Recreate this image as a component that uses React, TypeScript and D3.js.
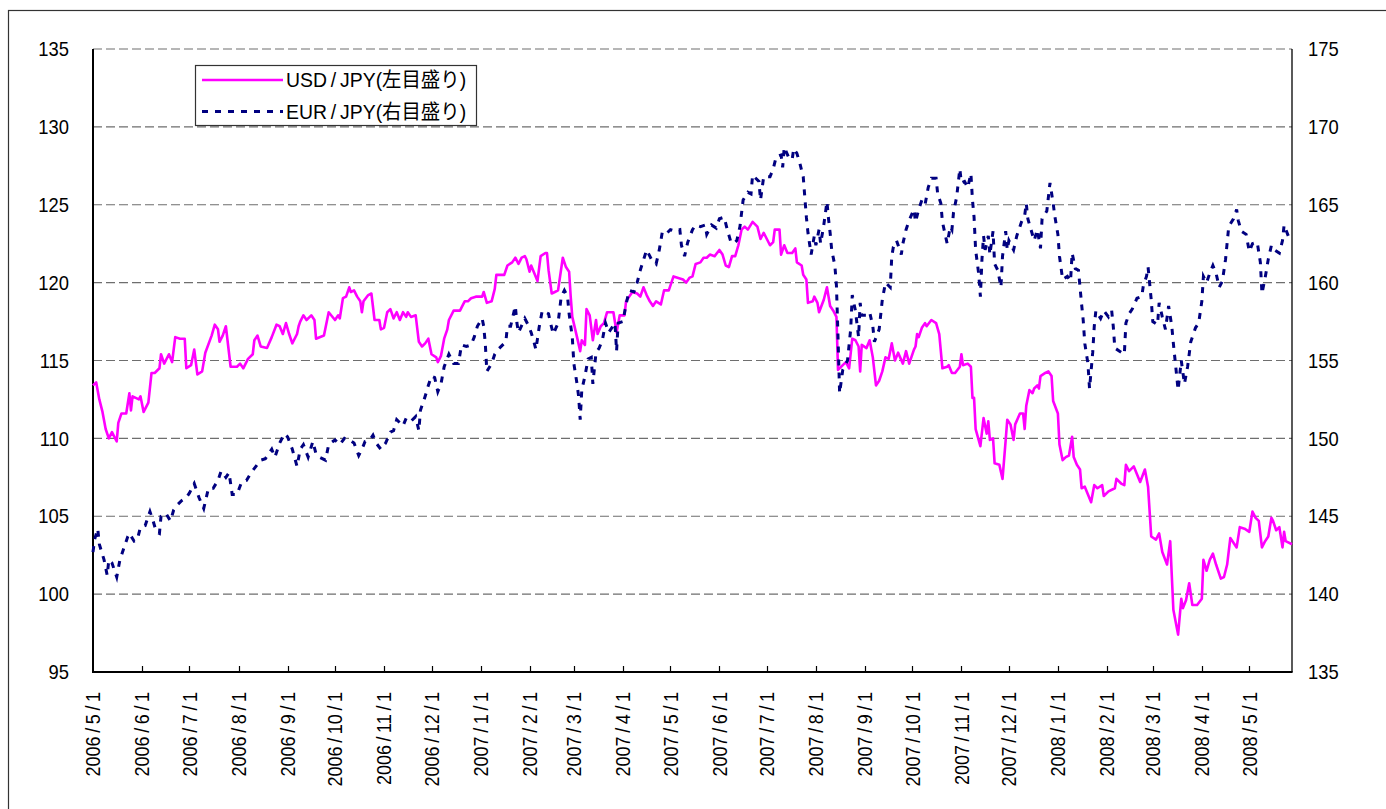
import React, { useRef, useEffect } from "react";
import * as d3 from "d3";

// USD/JPY (left axis)
const usdjpy: [string, number][] = [
  ["2006-05-01", 113.4], ["2006-05-03", 113.6], ["2006-05-05", 112.5], ["2006-05-07", 111.7],
  ["2006-05-09", 110.6], ["2006-05-11", 110.0], ["2006-05-13", 110.4], ["2006-05-16", 109.8],
  ["2006-05-17", 111.0], ["2006-05-19", 111.6], ["2006-05-22", 111.6], ["2006-05-24", 112.9],
  ["2006-05-25", 111.8], ["2006-05-26", 112.7], ["2006-05-30", 112.5], ["2006-05-31", 112.7],
  ["2006-06-02", 111.7], ["2006-06-05", 112.3], ["2006-06-07", 114.2], ["2006-06-09", 114.2],
  ["2006-06-12", 114.5], ["2006-06-13", 115.4], ["2006-06-15", 114.8], ["2006-06-18", 115.4],
  ["2006-06-20", 114.9], ["2006-06-22", 116.5], ["2006-06-25", 116.4], ["2006-06-28", 116.4],
  ["2006-06-29", 114.5], ["2006-07-02", 114.7], ["2006-07-04", 115.7], ["2006-07-06", 114.1],
  ["2006-07-09", 114.3], ["2006-07-11", 115.5], ["2006-07-15", 116.6], ["2006-07-17", 117.3],
  ["2006-07-19", 117.0], ["2006-07-20", 116.2], ["2006-07-22", 116.6], ["2006-07-24", 117.2],
  ["2006-07-27", 114.6], ["2006-07-31", 114.6], ["2006-08-02", 114.8], ["2006-08-04", 114.5],
  ["2006-08-07", 115.1], ["2006-08-10", 115.4], ["2006-08-11", 116.3], ["2006-08-13", 116.6],
  ["2006-08-15", 115.9], ["2006-08-19", 115.8], ["2006-08-22", 116.5], ["2006-08-25", 117.3],
  ["2006-08-27", 117.2], ["2006-08-29", 116.7], ["2006-08-31", 117.4], ["2006-09-02", 116.7],
  ["2006-09-04", 116.1], ["2006-09-07", 116.7], ["2006-09-08", 117.2], ["2006-09-09", 117.5],
  ["2006-09-11", 117.9], ["2006-09-13", 117.6], ["2006-09-16", 117.9], ["2006-09-18", 117.6],
  ["2006-09-19", 116.4], ["2006-09-24", 116.6], ["2006-09-27", 118.1], ["2006-10-01", 117.6],
  ["2006-10-03", 117.9], ["2006-10-04", 117.7], ["2006-10-06", 119.0], ["2006-10-08", 119.1],
  ["2006-10-10", 119.7], ["2006-10-11", 119.4], ["2006-10-13", 119.5], ["2006-10-15", 119.1],
  ["2006-10-17", 118.8], ["2006-10-18", 118.1], ["2006-10-19", 118.8], ["2006-10-22", 119.2],
  ["2006-10-24", 119.3], ["2006-10-26", 117.6], ["2006-10-29", 117.6], ["2006-10-30", 117.0],
  ["2006-11-01", 117.1], ["2006-11-03", 118.1], ["2006-11-05", 118.3], ["2006-11-07", 117.7],
  ["2006-11-09", 118.1], ["2006-11-11", 117.6], ["2006-11-13", 118.1], ["2006-11-15", 117.8],
  ["2006-11-16", 118.1], ["2006-11-18", 117.8], ["2006-11-21", 117.9], ["2006-11-23", 116.2],
  ["2006-11-25", 115.9], ["2006-11-27", 116.1], ["2006-11-29", 116.4], ["2006-12-01", 115.4],
  ["2006-12-04", 115.2], ["2006-12-05", 114.9], ["2006-12-07", 115.3], ["2006-12-09", 116.4],
  ["2006-12-11", 117.0], ["2006-12-12", 117.6], ["2006-12-15", 118.2], ["2006-12-19", 118.2],
  ["2006-12-21", 118.6], ["2006-12-22", 118.8], ["2006-12-24", 118.8], ["2006-12-26", 119.0],
  ["2006-12-29", 119.1], ["2007-01-02", 119.1], ["2007-01-03", 119.4], ["2007-01-05", 118.7],
  ["2007-01-08", 118.8], ["2007-01-10", 119.6], ["2007-01-11", 120.5], ["2007-01-14", 120.5],
  ["2007-01-16", 120.5], ["2007-01-18", 121.1], ["2007-01-21", 121.3], ["2007-01-23", 121.6],
  ["2007-01-25", 121.2], ["2007-01-27", 121.6], ["2007-01-29", 121.7], ["2007-01-30", 121.5],
  ["2007-02-01", 120.7], ["2007-02-02", 121.1], ["2007-02-04", 120.6], ["2007-02-06", 120.1],
  ["2007-02-08", 121.7], ["2007-02-11", 121.9], ["2007-02-12", 121.9], ["2007-02-13", 120.8],
  ["2007-02-15", 119.3], ["2007-02-17", 119.4], ["2007-02-19", 119.5], ["2007-02-22", 121.6],
  ["2007-02-24", 121.0], ["2007-02-26", 120.7], ["2007-02-27", 119.1], ["2007-02-28", 117.8],
  ["2007-03-03", 116.5], ["2007-03-05", 115.6], ["2007-03-06", 116.3], ["2007-03-08", 116.0],
  ["2007-03-09", 118.3], ["2007-03-11", 117.9], ["2007-03-13", 116.3], ["2007-03-15", 117.6],
  ["2007-03-16", 116.7], ["2007-03-18", 117.2], ["2007-03-20", 117.4], ["2007-03-22", 118.1],
  ["2007-03-26", 118.1], ["2007-03-28", 116.8], ["2007-03-30", 117.9], ["2007-04-02", 117.9],
  ["2007-04-03", 118.8], ["2007-04-05", 119.1], ["2007-04-07", 119.4], ["2007-04-10", 119.3],
  ["2007-04-12", 119.1], ["2007-04-14", 119.7], ["2007-04-16", 119.2], ["2007-04-18", 118.8],
  ["2007-04-20", 118.5], ["2007-04-22", 118.8], ["2007-04-25", 118.6], ["2007-04-27", 119.5],
  ["2007-04-30", 119.5], ["2007-05-03", 120.4], ["2007-05-06", 120.3], ["2007-05-09", 120.2],
  ["2007-05-11", 120.0], ["2007-05-13", 120.3], ["2007-05-15", 120.4], ["2007-05-17", 121.2],
  ["2007-05-20", 121.3], ["2007-05-22", 121.6], ["2007-05-24", 121.6], ["2007-05-26", 121.8],
  ["2007-05-29", 121.7], ["2007-06-01", 122.1], ["2007-06-03", 121.8], ["2007-06-05", 121.1],
  ["2007-06-07", 121.0], ["2007-06-09", 121.7], ["2007-06-11", 121.7], ["2007-06-13", 122.4],
  ["2007-06-15", 123.4], ["2007-06-17", 123.6], ["2007-06-19", 123.4], ["2007-06-22", 123.9],
  ["2007-06-25", 123.6], ["2007-06-27", 122.8], ["2007-06-29", 123.2], ["2007-07-01", 122.8],
  ["2007-07-03", 122.4], ["2007-07-05", 122.6], ["2007-07-06", 123.4], ["2007-07-09", 123.4],
  ["2007-07-10", 121.8], ["2007-07-12", 122.4], ["2007-07-14", 121.9], ["2007-07-17", 121.9],
  ["2007-07-19", 122.2], ["2007-07-20", 121.3], ["2007-07-23", 121.1], ["2007-07-24", 120.5],
  ["2007-07-26", 120.2], ["2007-07-27", 118.7], ["2007-07-30", 118.8], ["2007-07-31", 119.1],
  ["2007-08-02", 118.7], ["2007-08-03", 118.1], ["2007-08-06", 118.9], ["2007-08-08", 119.7],
  ["2007-08-10", 118.5], ["2007-08-12", 118.2], ["2007-08-14", 117.8], ["2007-08-15", 114.4],
  ["2007-08-18", 114.7], ["2007-08-20", 114.9], ["2007-08-22", 114.5], ["2007-08-24", 116.4],
  ["2007-08-26", 116.3], ["2007-08-28", 115.9], ["2007-08-29", 114.3], ["2007-08-30", 116.0],
  ["2007-09-02", 115.8], ["2007-09-04", 116.3], ["2007-09-06", 115.2], ["2007-09-08", 113.4],
  ["2007-09-10", 113.7], ["2007-09-12", 114.3], ["2007-09-14", 115.2], ["2007-09-16", 115.1],
  ["2007-09-18", 116.1], ["2007-09-20", 115.0], ["2007-09-22", 115.5], ["2007-09-25", 114.8],
  ["2007-09-27", 115.6], ["2007-09-29", 114.8], ["2007-10-02", 115.7], ["2007-10-03", 115.9],
  ["2007-10-04", 116.7], ["2007-10-05", 116.5], ["2007-10-07", 117.1], ["2007-10-09", 117.4],
  ["2007-10-10", 117.2], ["2007-10-13", 117.6], ["2007-10-16", 117.4], ["2007-10-18", 116.7],
  ["2007-10-20", 114.5], ["2007-10-23", 114.6], ["2007-10-24", 114.7], ["2007-10-26", 114.2],
  ["2007-10-28", 114.2], ["2007-10-31", 114.6], ["2007-11-01", 115.4], ["2007-11-02", 114.7],
  ["2007-11-05", 114.8], ["2007-11-07", 114.6], ["2007-11-08", 112.6], ["2007-11-09", 112.6],
  ["2007-11-10", 110.6], ["2007-11-13", 109.5], ["2007-11-15", 111.3], ["2007-11-17", 110.3],
  ["2007-11-18", 111.1], ["2007-11-19", 109.9], ["2007-11-21", 110.0], ["2007-11-22", 108.4],
  ["2007-11-25", 108.3], ["2007-11-27", 107.4], ["2007-11-29", 109.9], ["2007-11-30", 111.2],
  ["2007-12-02", 110.9], ["2007-12-04", 109.9], ["2007-12-05", 110.9], ["2007-12-08", 111.6],
  ["2007-12-10", 111.6], ["2007-12-11", 110.6], ["2007-12-12", 112.1], ["2007-12-14", 113.1],
  ["2007-12-16", 112.9], ["2007-12-17", 113.2], ["2007-12-19", 113.4], ["2007-12-20", 113.2],
  ["2007-12-21", 114.0], ["2007-12-24", 114.2], ["2007-12-26", 114.3], ["2007-12-28", 114.0],
  ["2007-12-29", 112.4], ["2008-01-01", 111.6], ["2008-01-02", 109.6], ["2008-01-04", 108.6],
  ["2008-01-06", 108.8], ["2008-01-08", 108.9], ["2008-01-10", 110.1], ["2008-01-11", 108.8],
  ["2008-01-13", 108.3], ["2008-01-15", 108.0], ["2008-01-16", 106.8], ["2008-01-18", 106.9],
  ["2008-01-20", 106.4], ["2008-01-22", 105.9], ["2008-01-24", 107.0], ["2008-01-26", 106.8],
  ["2008-01-29", 107.0], ["2008-01-30", 106.3], ["2008-02-02", 106.6], ["2008-02-06", 106.8],
  ["2008-02-07", 107.4], ["2008-02-10", 107.1], ["2008-02-12", 107.0], ["2008-02-13", 108.3],
  ["2008-02-15", 107.9], ["2008-02-18", 108.2], ["2008-02-20", 107.7], ["2008-02-22", 107.2],
  ["2008-02-25", 108.0], ["2008-02-27", 106.9], ["2008-02-29", 103.7], ["2008-03-03", 103.5],
  ["2008-03-05", 103.9], ["2008-03-07", 102.7], ["2008-03-10", 101.9], ["2008-03-12", 103.4],
  ["2008-03-14", 99.0], ["2008-03-17", 97.4], ["2008-03-19", 99.7], ["2008-03-20", 99.1],
  ["2008-03-22", 99.6], ["2008-03-24", 100.7], ["2008-03-26", 99.3], ["2008-03-29", 99.3],
  ["2008-04-01", 99.7], ["2008-04-02", 102.2], ["2008-04-04", 101.5], ["2008-04-06", 102.2],
  ["2008-04-08", 102.6], ["2008-04-10", 101.9], ["2008-04-13", 101.0], ["2008-04-15", 101.1],
  ["2008-04-17", 101.9], ["2008-04-19", 103.6], ["2008-04-21", 103.3], ["2008-04-23", 103.0],
  ["2008-04-25", 104.3], ["2008-04-28", 104.2], ["2008-05-01", 104.0], ["2008-05-03", 105.3],
  ["2008-05-05", 104.9], ["2008-05-07", 104.7], ["2008-05-09", 103.0], ["2008-05-11", 103.4],
  ["2008-05-13", 103.7], ["2008-05-15", 104.9], ["2008-05-16", 104.7], ["2008-05-18", 104.1],
  ["2008-05-20", 104.3], ["2008-05-22", 103.0], ["2008-05-23", 104.0], ["2008-05-24", 103.4],
  ["2008-05-28", 103.2],
];

// EUR/JPY (right axis)
const eurjpy: [string, number][] = [
  ["2006-05-01", 142.7], ["2006-05-02", 143.5], ["2006-05-04", 144.2], ["2006-05-05", 143.2],
  ["2006-05-08", 142.2], ["2006-05-10", 141.2], ["2006-05-11", 142.2], ["2006-05-13", 142.0],
  ["2006-05-16", 141.1], ["2006-05-18", 142.2], ["2006-05-20", 142.8], ["2006-05-23", 143.7],
  ["2006-05-24", 143.9], ["2006-05-27", 143.4], ["2006-05-29", 143.5], ["2006-05-31", 144.3],
  ["2006-06-03", 144.4], ["2006-06-06", 145.3], ["2006-06-08", 144.7], ["2006-06-10", 144.0],
  ["2006-06-12", 143.9], ["2006-06-13", 145.0], ["2006-06-16", 145.2], ["2006-06-19", 144.7],
  ["2006-06-21", 145.4], ["2006-06-23", 145.7], ["2006-06-26", 146.0], ["2006-06-29", 146.2],
  ["2006-07-01", 146.5], ["2006-07-04", 147.1], ["2006-07-07", 146.2], ["2006-07-10", 145.5],
  ["2006-07-13", 146.8], ["2006-07-16", 146.8], ["2006-07-19", 147.3], ["2006-07-21", 147.9],
  ["2006-07-24", 147.5], ["2006-07-26", 147.8], ["2006-07-28", 146.4], ["2006-07-31", 146.4],
  ["2006-08-03", 147.2], ["2006-08-06", 147.3], ["2006-08-09", 147.8], ["2006-08-12", 148.2],
  ["2006-08-15", 148.6], ["2006-08-18", 148.7], ["2006-08-22", 149.3], ["2006-08-24", 148.8],
  ["2006-08-27", 149.7], ["2006-08-30", 150.3], ["2006-09-01", 150.1], ["2006-09-04", 149.3],
  ["2006-09-07", 148.2], ["2006-09-09", 149.3], ["2006-09-11", 149.6], ["2006-09-14", 148.8],
  ["2006-09-17", 149.8], ["2006-09-19", 149.0], ["2006-09-21", 148.8], ["2006-09-25", 148.6],
  ["2006-09-27", 149.6], ["2006-10-01", 149.9], ["2006-10-04", 149.6], ["2006-10-07", 150.0],
  ["2006-10-10", 149.9], ["2006-10-13", 149.7], ["2006-10-16", 148.9], ["2006-10-18", 149.3],
  ["2006-10-20", 149.8], ["2006-10-23", 149.9], ["2006-10-25", 150.2], ["2006-10-27", 149.7],
  ["2006-10-30", 149.3], ["2006-11-02", 149.7], ["2006-11-05", 150.4], ["2006-11-07", 150.5],
  ["2006-11-09", 151.2], ["2006-11-11", 151.0], ["2006-11-13", 150.8], ["2006-11-15", 151.3],
  ["2006-11-18", 151.1], ["2006-11-21", 151.4], ["2006-11-23", 150.5], ["2006-11-24", 151.8],
  ["2006-11-27", 152.7], ["2006-11-29", 153.4], ["2006-12-01", 154.0], ["2006-12-03", 153.9],
  ["2006-12-05", 153.0], ["2006-12-07", 153.5], ["2006-12-09", 154.6], ["2006-12-12", 155.4],
  ["2006-12-15", 154.8], ["2006-12-18", 154.8], ["2006-12-20", 156.0], ["2006-12-23", 155.9],
  ["2006-12-26", 156.0], ["2006-12-28", 156.5], ["2006-12-30", 157.2], ["2007-01-02", 157.7],
  ["2007-01-03", 157.2], ["2007-01-04", 156.1], ["2007-01-05", 154.3], ["2007-01-08", 154.8],
  ["2007-01-10", 155.4], ["2007-01-12", 155.7], ["2007-01-17", 156.2], ["2007-01-18", 157.2],
  ["2007-01-20", 157.2], ["2007-01-23", 158.5], ["2007-01-24", 157.4], ["2007-01-25", 156.8],
  ["2007-01-29", 157.7], ["2007-01-31", 157.3], ["2007-02-02", 156.8], ["2007-02-04", 156.1],
  ["2007-02-05", 155.7], ["2007-02-07", 157.1], ["2007-02-09", 158.2], ["2007-02-13", 158.0],
  ["2007-02-14", 157.5], ["2007-02-16", 156.7], ["2007-02-19", 157.4], ["2007-02-21", 159.1],
  ["2007-02-23", 159.5], ["2007-02-25", 159.1], ["2007-02-26", 158.0], ["2007-02-28", 156.5],
  ["2007-03-01", 154.8], ["2007-03-03", 153.5], ["2007-03-04", 152.7], ["2007-03-05", 151.2],
  ["2007-03-06", 153.1], ["2007-03-08", 154.0], ["2007-03-10", 155.1], ["2007-03-12", 155.2],
  ["2007-03-13", 153.5], ["2007-03-15", 155.5], ["2007-03-17", 155.8], ["2007-03-19", 156.3],
  ["2007-03-21", 157.4], ["2007-03-23", 156.8], ["2007-03-27", 157.4], ["2007-03-28", 155.6],
  ["2007-03-29", 157.4], ["2007-04-01", 157.5], ["2007-04-03", 158.6], ["2007-04-05", 159.5],
  ["2007-04-08", 159.4], ["2007-04-10", 160.0], ["2007-04-12", 160.8], ["2007-04-16", 162.1],
  ["2007-04-19", 161.5], ["2007-04-22", 161.2], ["2007-04-24", 162.1], ["2007-04-26", 163.3],
  ["2007-04-29", 163.2], ["2007-05-01", 163.4], ["2007-05-04", 163.3], ["2007-05-07", 163.4],
  ["2007-05-08", 162.4], ["2007-05-10", 161.7], ["2007-05-12", 162.6], ["2007-05-15", 163.4],
  ["2007-05-17", 163.7], ["2007-05-20", 163.6], ["2007-05-23", 163.7], ["2007-05-24", 163.1],
  ["2007-05-27", 163.7], ["2007-05-30", 163.5], ["2007-06-01", 164.1], ["2007-06-04", 164.2],
  ["2007-06-06", 163.4], ["2007-06-08", 162.7], ["2007-06-10", 162.5], ["2007-06-12", 162.7],
  ["2007-06-14", 163.6], ["2007-06-16", 165.3], ["2007-06-19", 165.8], ["2007-06-21", 165.7],
  ["2007-06-22", 166.9], ["2007-06-26", 166.5], ["2007-06-27", 165.3], ["2007-06-29", 166.8],
  ["2007-07-03", 166.8], ["2007-07-05", 167.3], ["2007-07-07", 168.1], ["2007-07-10", 168.2],
  ["2007-07-11", 167.4], ["2007-07-12", 168.7], ["2007-07-15", 168.0], ["2007-07-17", 167.9],
  ["2007-07-18", 168.6], ["2007-07-20", 168.3], ["2007-07-22", 167.6], ["2007-07-24", 166.8],
  ["2007-07-25", 165.5], ["2007-07-26", 164.2], ["2007-07-27", 163.2], ["2007-07-29", 161.8],
  ["2007-07-31", 163.0], ["2007-08-01", 162.4], ["2007-08-03", 163.4], ["2007-08-04", 162.5],
  ["2007-08-06", 163.7], ["2007-08-08", 165.2], ["2007-08-09", 164.1], ["2007-08-10", 163.2],
  ["2007-08-11", 162.1], ["2007-08-13", 161.1], ["2007-08-14", 159.8], ["2007-08-15", 156.5],
  ["2007-08-16", 152.9], ["2007-08-18", 154.4], ["2007-08-21", 155.0], ["2007-08-23", 157.0],
  ["2007-08-24", 159.2], ["2007-08-26", 158.2], ["2007-08-28", 156.5], ["2007-08-29", 158.7],
  ["2007-08-30", 157.9], ["2007-09-02", 157.9], ["2007-09-04", 158.1], ["2007-09-06", 157.2],
  ["2007-09-07", 156.2], ["2007-09-10", 157.0], ["2007-09-12", 158.9], ["2007-09-14", 160.0],
  ["2007-09-17", 159.7], ["2007-09-18", 161.7], ["2007-09-19", 162.3], ["2007-09-21", 162.7],
  ["2007-09-24", 161.8], ["2007-09-25", 162.5], ["2007-09-27", 163.4], ["2007-09-29", 164.0],
  ["2007-10-02", 164.7], ["2007-10-03", 163.9], ["2007-10-05", 164.7], ["2007-10-07", 165.3],
  ["2007-10-09", 165.0], ["2007-10-11", 166.1], ["2007-10-13", 166.7], ["2007-10-16", 166.7],
  ["2007-10-17", 165.7], ["2007-10-19", 165.1], ["2007-10-20", 163.9], ["2007-10-23", 162.5],
  ["2007-10-25", 163.6], ["2007-10-26", 163.4], ["2007-10-27", 164.5], ["2007-10-29", 165.5],
  ["2007-10-31", 167.3], ["2007-11-01", 166.4], ["2007-11-03", 166.5], ["2007-11-05", 166.1],
  ["2007-11-07", 167.0], ["2007-11-08", 165.3], ["2007-11-09", 164.2], ["2007-11-10", 162.1],
  ["2007-11-12", 160.5], ["2007-11-13", 159.1], ["2007-11-14", 161.5], ["2007-11-15", 163.0],
  ["2007-11-16", 162.1], ["2007-11-18", 163.0], ["2007-11-19", 161.8], ["2007-11-21", 163.3],
  ["2007-11-22", 161.2], ["2007-11-24", 160.8], ["2007-11-26", 159.7], ["2007-11-27", 161.7],
  ["2007-11-29", 163.3], ["2007-11-30", 162.1], ["2007-12-01", 162.7], ["2007-12-04", 162.1],
  ["2007-12-06", 163.0], ["2007-12-09", 163.9], ["2007-12-11", 164.3], ["2007-12-12", 165.1],
  ["2007-12-13", 164.1], ["2007-12-15", 163.4], ["2007-12-17", 162.7], ["2007-12-19", 163.4],
  ["2007-12-21", 162.2], ["2007-12-22", 164.1], ["2007-12-25", 164.6], ["2007-12-27", 166.4],
  ["2007-12-29", 165.1], ["2007-12-30", 164.3], ["2008-01-01", 163.1], ["2008-01-02", 161.7],
  ["2008-01-04", 160.2], ["2008-01-07", 160.4], ["2008-01-09", 160.1], ["2008-01-10", 161.9],
  ["2008-01-12", 160.9], ["2008-01-14", 160.8], ["2008-01-16", 158.6], ["2008-01-17", 157.6],
  ["2008-01-18", 156.1], ["2008-01-20", 154.8], ["2008-01-21", 153.2], ["2008-01-23", 155.5],
  ["2008-01-24", 157.2], ["2008-01-25", 158.2], ["2008-01-28", 157.7], ["2008-01-30", 158.2],
  ["2008-02-02", 157.8], ["2008-02-04", 158.2], ["2008-02-05", 157.2], ["2008-02-06", 155.8],
  ["2008-02-09", 155.6], ["2008-02-12", 155.4], ["2008-02-13", 157.4], ["2008-02-15", 158.0],
  ["2008-02-17", 158.3], ["2008-02-20", 159.0], ["2008-02-23", 159.1], ["2008-02-24", 159.8],
  ["2008-02-26", 160.4], ["2008-02-27", 161.0], ["2008-02-29", 158.9], ["2008-03-01", 157.5],
  ["2008-03-04", 157.3], ["2008-03-05", 158.7], ["2008-03-07", 157.8], ["2008-03-09", 157.0],
  ["2008-03-11", 158.5], ["2008-03-13", 157.2], ["2008-03-14", 156.1], ["2008-03-16", 154.1],
  ["2008-03-17", 153.1], ["2008-03-19", 155.0], ["2008-03-21", 153.5], ["2008-03-23", 154.6],
  ["2008-03-25", 156.2], ["2008-03-28", 157.1], ["2008-03-30", 157.4], ["2008-04-01", 158.8],
  ["2008-04-02", 160.4], ["2008-04-04", 160.0], ["2008-04-06", 160.6], ["2008-04-08", 161.1],
  ["2008-04-10", 160.6], ["2008-04-12", 159.7], ["2008-04-14", 160.1], ["2008-04-16", 161.5],
  ["2008-04-18", 163.6], ["2008-04-21", 164.1], ["2008-04-23", 164.7], ["2008-04-24", 164.0],
  ["2008-04-26", 163.3], ["2008-04-29", 163.1], ["2008-05-01", 162.0], ["2008-05-03", 162.5],
  ["2008-05-06", 162.6], ["2008-05-08", 161.3], ["2008-05-09", 159.3], ["2008-05-11", 160.3],
  ["2008-05-13", 161.5], ["2008-05-15", 162.4], ["2008-05-17", 162.1], ["2008-05-20", 161.9],
  ["2008-05-22", 162.7], ["2008-05-23", 163.7], ["2008-05-26", 162.9], ["2008-05-28", 163.0],
];

const leftTicks = [95, 100, 105, 110, 115, 120, 125, 130, 135];
const rightTicks = [135, 140, 145, 150, 155, 160, 165, 170, 175];
const monthTicks = [
  "2006/5/1", "2006/6/1", "2006/7/1", "2006/8/1", "2006/9/1", "2006/10/1", "2006/11/1", "2006/12/1",
  "2007/1/1", "2007/2/1", "2007/3/1", "2007/4/1", "2007/5/1", "2007/6/1", "2007/7/1", "2007/8/1",
  "2007/9/1", "2007/10/1", "2007/11/1", "2007/12/1",
  "2008/1/1", "2008/2/1", "2008/3/1", "2008/4/1", "2008/5/1",
];
const dateRange = ["2006-05-01", "2008-05-28"];
const seriesNames = ["USD/JPY(左目盛り)", "EUR/JPY(右目盛り)"];

const W = 1386;
const H = 809;
const FONT = "'Liberation Sans', Arial, 'Noto Sans CJK JP', sans-serif";
const EUR_DASH = "6,7";
// wider slash like the original rendering
const spaced = (s: string) => s.replace(/\//g, "\u2009/\u2009");

export default function App() {
  const ref = useRef<SVGSVGElement>(null);

  useEffect(() => {
    const svg = d3.select(ref.current);
    svg.selectAll("*").remove();

    const left = 93, right = 1292, top = 49, bottom = 672;
    const parse = d3.timeParse("%Y-%m-%d");
    const parseTick = d3.timeParse("%Y/%m/%d");

    const x = d3.scaleTime()
      .domain(dateRange.map((d) => parse(d) as Date))
      .range([left, right]);
    const yL = d3.scaleLinear().domain([95, 135]).range([bottom, top]);
    const yR = d3.scaleLinear().domain([135, 175]).range([bottom, top]);

    // outer frame
    svg.append("rect")
      .attr("x", 8.5).attr("y", 10.5)
      .attr("width", W).attr("height", H)
      .attr("fill", "#fff").attr("stroke", "#333").attr("stroke-width", 1.2);

    // gridlines
    svg.append("g")
      .selectAll("line")
      .data(leftTicks.slice(1))
      .join("line")
      .attr("x1", left).attr("x2", right)
      .attr("y1", (d) => yL(d)).attr("y2", (d) => yL(d))
      .attr("stroke", "#6e6e6e").attr("stroke-width", 1.2)
      .attr("stroke-dasharray", "9,4");

    // axes
    svg.append("line")
      .attr("x1", left).attr("x2", left).attr("y1", top).attr("y2", bottom + 1)
      .attr("stroke", "#000").attr("stroke-width", 2);
    svg.append("line")
      .attr("x1", right).attr("x2", right).attr("y1", top).attr("y2", bottom)
      .attr("stroke", "#000").attr("stroke-width", 1.3);
    svg.append("line")
      .attr("x1", left).attr("x2", right + 0.6).attr("y1", bottom).attr("y2", bottom)
      .attr("stroke", "#000").attr("stroke-width", 2);

    const ticks = monthTicks.map((t) => ({ label: t, date: parseTick(t) as Date }));

    svg.append("g")
      .selectAll("line")
      .data(ticks.slice(1))
      .join("line")
      .attr("x1", (d) => Math.round(x(d.date)) + 0.5)
      .attr("x2", (d) => Math.round(x(d.date)) + 0.5)
      .attr("y1", bottom).attr("y2", bottom - 6)
      .attr("stroke", "#000").attr("stroke-width", 1.2);

    const fs = 20;
    svg.append("g")
      .selectAll("text")
      .data(leftTicks)
      .join("text")
      .attr("transform", (d) => `translate(69,${yL(d)}) scale(0.92,1)`)
      .attr("text-anchor", "end")
      .attr("dy", "0.36em")
      .attr("font-family", FONT).attr("font-size", fs)
      .text((d) => d);

    svg.append("g")
      .selectAll("text")
      .data(rightTicks)
      .join("text")
      .attr("transform", (d) => `translate(1308,${yR(d)}) scale(0.92,1)`)
      .attr("text-anchor", "start")
      .attr("dy", "0.36em")
      .attr("font-family", FONT).attr("font-size", fs)
      .text((d) => d);

    svg.append("g")
      .selectAll("text")
      .data(ticks)
      .join("text")
      .attr("transform", (d) => `translate(${x(d.date)},692) rotate(-90) scale(0.9,1)`)
      .attr("text-anchor", "end")
      .attr("dy", "0.36em")
      .attr("font-family", FONT).attr("font-size", fs)
      .text((d) => spaced(d.label));

    // series
    const usdLine = d3.line<[string, number]>()
      .x((d) => x(parse(d[0]) as Date))
      .y((d) => yL(d[1]));
    const eurLine = d3.line<[string, number]>()
      .x((d) => x(parse(d[0]) as Date))
      .y((d) => yR(d[1]));

    svg.append("path")
      .datum(usdjpy)
      .attr("d", usdLine)
      .attr("fill", "none").attr("stroke", "#ff00ff")
      .attr("stroke-width", 2.6).attr("stroke-linejoin", "round");

    svg.append("path")
      .datum(eurjpy)
      .attr("d", eurLine)
      .attr("fill", "none").attr("stroke", "#000080")
      .attr("stroke-width", 3).attr("stroke-dasharray", EUR_DASH);

    // legend
    const lg = svg.append("g");
    lg.append("rect")
      .attr("x", 195.5).attr("y", 65.5).attr("width", 281).attr("height", 60)
      .attr("fill", "#fff").attr("stroke", "#333").attr("stroke-width", 1.2);
    const styles = [
      { color: "#ff00ff", dash: null, w: 2.6 },
      { color: "#000080", dash: EUR_DASH, w: 3 },
    ];
    seriesNames.forEach((name, i) => {
      const cy = 80 + i * 31.5;
      lg.append("line")
        .attr("x1", 202).attr("x2", 283).attr("y1", cy).attr("y2", cy)
        .attr("stroke", styles[i].color).attr("stroke-width", styles[i].w)
        .attr("stroke-dasharray", styles[i].dash);
      lg.append("text")
        .attr("transform", `translate(286,${cy}) scale(0.97,1)`)
        .attr("dy", "0.36em")
        .attr("font-family", FONT).attr("font-size", 20)
        .text(spaced(name));
    });
  }, []);

  return (
    <svg
      ref={ref}
      width={W}
      height={H}
      style={{ position: "absolute", left: 0, top: 0, background: "#fff" }}
    />
  );
}
